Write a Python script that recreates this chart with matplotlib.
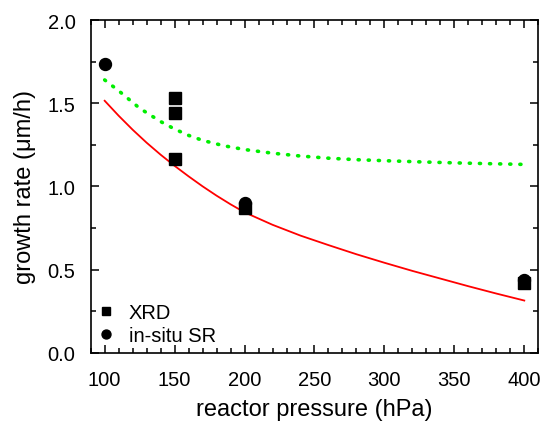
import matplotlib
matplotlib.use("Agg")
import matplotlib.pyplot as plt
from matplotlib.ticker import MultipleLocator, FormatStrFormatter

plt.rcParams['font.family'] = ['Liberation Sans', 'DejaVu Sans']

# measured data
xrd_p = [150, 150, 150, 200, 400]
xrd_rate = [1.53, 1.44, 1.165, 0.87, 0.42]
sr_p = [100, 200, 400]
sr_rate = [1.735, 0.90, 0.44]

# model curves
red_p = [100, 110, 120, 130, 140, 150, 160, 170, 180, 190, 200, 220, 240,
         260, 280, 300, 320, 340, 360, 380, 400]
red_rate = [1.515, 1.425, 1.341, 1.263, 1.191, 1.124, 1.061, 1.001, 0.945, 0.893,
            0.845, 0.77, 0.705, 0.648, 0.593, 0.542, 0.493, 0.447, 0.401, 0.357, 0.315]
green_p = [100, 110, 125, 140, 150, 160, 170, 185, 200, 220, 240, 260, 280,
           300, 325, 350, 375, 398]
green_rate = [1.64, 1.575, 1.47, 1.39, 1.345, 1.307, 1.277, 1.245, 1.222, 1.20,
              1.183, 1.17, 1.161, 1.155, 1.148, 1.142, 1.137, 1.133]

fig = plt.figure(figsize=(5.43, 4.27), dpi=100)
ax = fig.add_axes([0.167, 0.171, 0.8243, 0.7798])

ax.plot(red_p, red_rate, color='#ff0000', lw=1.3, zorder=2)
ax.plot(green_p, green_rate, color='#00ee00', lw=2.6, linestyle=(0, (0.3, 2.5)),
        dash_capstyle='round', zorder=2)
ax.plot(xrd_p, xrd_rate, 's', color='black', ms=8, ls='none', label='XRD', zorder=3)
ax.plot(sr_p, sr_rate, 'o', color='black', ms=8.6, ls='none', label='in-situ SR', zorder=3)

ax.set_xlim(90, 410)
ax.set_ylim(0, 2.0)
ax.xaxis.set_major_locator(MultipleLocator(50))
ax.xaxis.set_minor_locator(MultipleLocator(10))
ax.yaxis.set_major_locator(MultipleLocator(0.5))
ax.yaxis.set_minor_locator(MultipleLocator(0.25))
ax.yaxis.set_major_formatter(FormatStrFormatter('%.1f'))
ax.tick_params(which='both', direction='in', top=True, right=True, width=1.1,
               labelsize=14.5)
ax.tick_params(axis='x', which='major', pad=12)
ax.tick_params(axis='y', which='major', pad=11)
ax.tick_params(which='major', length=6)
ax.tick_params(which='minor', length=3.5)
for s in ax.spines.values():
    s.set_linewidth(1.2)

ax.set_xlabel('reactor pressure (hPa)', fontsize=17, labelpad=7)
ax.set_ylabel('growth rate (μm/h)', fontsize=17, labelpad=8)

leg = ax.legend(loc='lower left', frameon=False, fontsize=14.5, markerscale=0.75,
                handlelength=0.8, handletextpad=0.75, borderaxespad=0.3,
                labelspacing=0.2, bbox_to_anchor=(-0.016, -0.018))

fig.savefig('out.png', dpi=100)
